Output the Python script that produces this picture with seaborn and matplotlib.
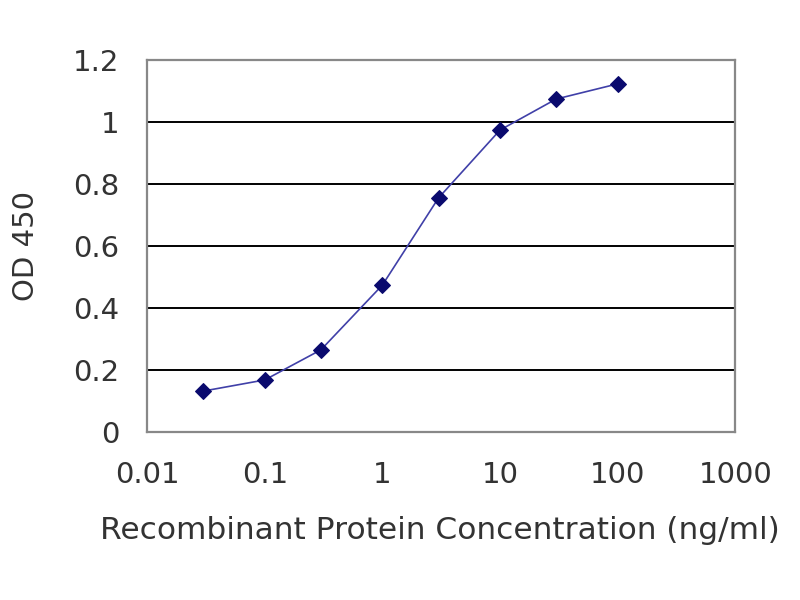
import matplotlib
matplotlib.use("Agg")
import matplotlib.pyplot as plt
import seaborn as sns
import pandas as pd

# concentrations (ng/ml) and OD450 readings
conc = [0.03, 0.1, 0.3, 1, 3, 10, 30, 100]
od450 = [0.132, 0.168, 0.265, 0.474, 0.755, 0.974, 1.074, 1.123]
xticks = [0.01, 0.1, 1, 10, 100, 1000]
xticklabels = ["0.01", "0.1", "1", "10", "100", "1000"]
yticks = [0, 0.2, 0.4, 0.6, 0.8, 1, 1.2]
yticklabels = ["0", "0.2", "0.4", "0.6", "0.8", "1", "1.2"]

df = pd.DataFrame({"conc": conc, "od": od450})

sns.set_style("white")
plt.rcParams['font.family'] = ['DejaVu Sans']

fig = plt.figure(figsize=(8, 6), dpi=100)
ax = fig.add_axes([0.184, 0.28, 0.735, 0.62])

sns.lineplot(data=df, x="conc", y="od", ax=ax, color="#4040a8", linewidth=1.2,
             marker="D", markersize=8, markerfacecolor="#0a0a6e",
             markeredgecolor="#0a0a6e")

ax.set_xscale("log")
ax.set_xlim(0.01, 1000)
ax.set_ylim(0, 1.2)
ax.set_xticks(xticks)
ax.set_xticklabels(xticklabels)
ax.set_yticks(yticks)
ax.set_yticklabels(yticklabels)
ax.minorticks_off()

ax.yaxis.grid(True, color="black", linewidth=1.4)
ax.xaxis.grid(False)
ax.set_axisbelow(True)
for s in ax.spines.values():
    s.set_color("#888888")
    s.set_linewidth(1.6)

ax.tick_params(axis="x", direction="in", length=5, color="#555555",
               labelsize=21, pad=21, labelcolor="#333333")
ax.tick_params(axis="y", direction="in", length=4, color="#555555",
               labelsize=21, pad=20, labelcolor="#333333")

ax.set_xlabel("Recombinant Protein Concentration (ng/ml)", fontsize=22.5,
              color="#333333")
ax.set_ylabel("OD 450", fontsize=21, color="#333333")
ax.xaxis.set_label_coords(0.498, -0.225)
ax.yaxis.set_label_coords(-0.182, 0.5)

fig.savefig("out.png", dpi=100)
